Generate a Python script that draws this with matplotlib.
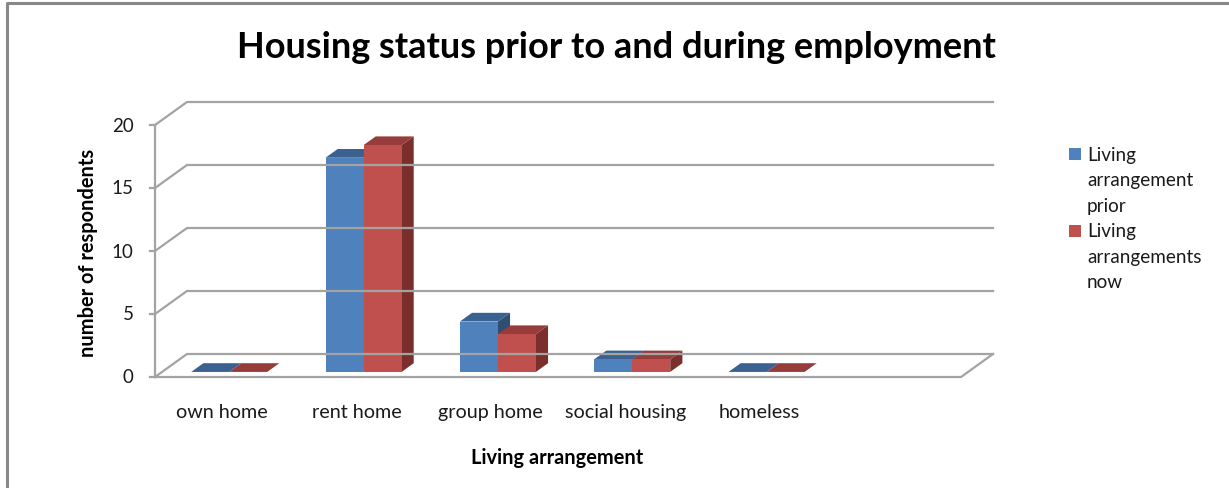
import matplotlib.pyplot as plt
from matplotlib.patches import Polygon, Rectangle
from matplotlib.lines import Line2D

categories = ["own home", "rent home", "group home", "social housing", "homeless"]
prior = [0, 17, 4, 1, 0]
now = [0, 18, 3, 1, 0]
series_labels = [["Living", "arrangement", "prior"], ["Living", "arrangements", "now"]]
yticks = [0, 5, 10, 15, 20]

plt.rcParams['font.family'] = ['Lato', 'DejaVu Sans']

W, H = 1229, 489
fig = plt.figure(figsize=(W / 100, H / 100), dpi=100)
fig.patch.set_facecolor('white')

# plot area in pixels: front-left corner (155, 378), back-right top (993, 102)
ax = fig.add_axes([155 / W, (H - 378) / H, 838 / W, 276 / H])
n_slots = 6
ddx, ddy = 0.238, 1.825          # full depth offset of the 3D box
ax.set_xlim(0, n_slots + ddx)
ax.set_ylim(0, 276 / 12.6)
ax.axis('off')

grid = '#a3a3a3'
glw = 1.6

# side wall + back wall gridlines
for v in yticks:
    ax.plot([0, ddx, n_slots + ddx], [v, v + ddy, v + ddy],
            color=grid, lw=glw, clip_on=False, solid_joinstyle='miter')
# floor front and right edges
ax.plot([0, n_slots, n_slots + ddx], [0, 0, ddy], color=grid, lw=glw, clip_on=False)
# value axis with ticks
ax.plot([0, 0], [0, 20], color=grid, lw=glw, clip_on=False)
for v in yticks:
    ax.plot([-0.04, 0], [v, v], color=grid, lw=glw, clip_on=False)
    ax.text(-0.16, v, str(v), ha='right', va='center', fontsize=13.5, color='#1a1a1a')

for i, c in enumerate(categories):
    ax.text(i + 0.5, -2.75, c, ha='center', va='center', fontsize=14.2, color='#1a1a1a')

# 3D columns
w = 0.283
z0, z1 = 0.22, 0.6
styles = [
    dict(front='#4F81BD', top='#3B6190', side='#2F4E74'),
    dict(front='#C0504D', top='#963C3A', side='#7A2F2D'),
]
for i in range(len(categories)):
    c = i + 0.5
    for s, vals in enumerate([prior, now]):
        h = vals[i]
        x0 = c - w + s * w
        x1 = x0 + w
        fx, fy = z0 * ddx, z0 * ddy
        bx, by = z1 * ddx, z1 * ddy
        st = styles[s]
        side = [(x1 + fx, fy), (x1 + bx, by), (x1 + bx, h + by), (x1 + fx, h + fy)]
        top = [(x0 + fx, h + fy), (x1 + fx, h + fy), (x1 + bx, h + by), (x0 + bx, h + by)]
        front = [(x0 + fx, fy), (x1 + fx, fy), (x1 + fx, h + fy), (x0 + fx, h + fy)]
        if h > 0:
            ax.add_patch(Polygon(side, closed=True, facecolor=st['side'], edgecolor='none', clip_on=False))
        ax.add_patch(Polygon(top, closed=True, facecolor=st['top'], edgecolor='none', clip_on=False))
        if h > 0:
            ax.add_patch(Polygon(front, closed=True, facecolor=st['front'], edgecolor='none', clip_on=False))

# titles
fig.text(616 / W, 1 - 47 / H, "Housing status prior to and during employment",
         ha='center', va='center', fontsize=26, fontweight='bold', color='black')
fig.text(88 / W, 1 - 253 / H, "number of respondents", rotation=90,
         ha='center', va='center', fontsize=14.4, fontweight='bold', color='black')
fig.text(557 / W, 1 - 458 / H, "Living arrangement",
         ha='center', va='center', fontsize=14.4, fontweight='bold', color='black')

# legend
line_h = 25.6
y_px = 155
for s, lines in enumerate(series_labels):
    fig.add_artist(Rectangle((1069 / W, 1 - (y_px + 6) / H), 12 / W, 12 / H,
                             transform=fig.transFigure, facecolor=styles[s]['front'],
                             edgecolor='none'))
    for ln in lines:
        fig.text(1087 / W, 1 - y_px / H, ln, ha='left', va='center',
                 fontsize=13.6, color='#1a1a1a')
        y_px += line_h

# outer frame (left and top edges)
fig.add_artist(Line2D([7 / W, 7 / W, 1], [0, 1 - 4 / H, 1 - 4 / H],
                      transform=fig.transFigure, color='#888888', lw=2.2))

fig.savefig('out.png', dpi=100)
